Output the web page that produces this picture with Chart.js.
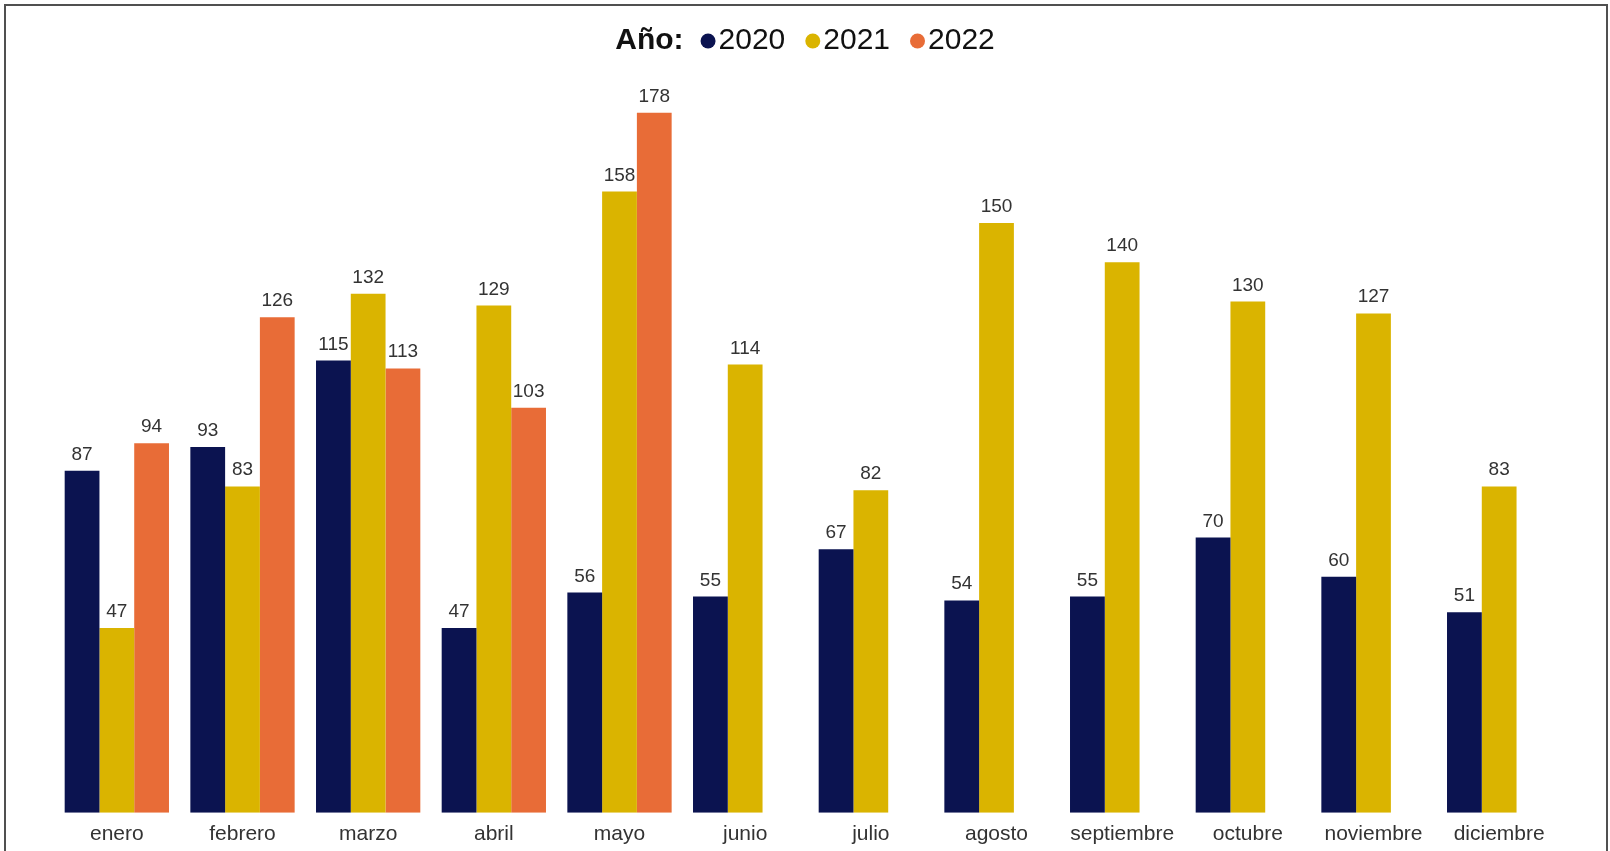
<!DOCTYPE html>
<html lang="es">
<head>
<meta charset="utf-8">
<title>Año 2020 - 2022</title>
<script src="https://cdn.jsdelivr.net/npm/chart.js@4.4.0/dist/chart.umd.min.js"></script>
<style>
  html, body { margin: 0; padding: 0; background: #fff; overflow: hidden; }
  #wrap { position: relative; width: 1610px; height: 851px; }
  #frame { position: absolute; left: 4px; top: 4px; width: 1604px; height: 900px;
           box-sizing: border-box; border: 2px solid #505050; pointer-events: none; }
</style>
</head>
<body>
<div id="wrap">
  <canvas id="chart"></canvas>
  <div id="frame"></div>
</div>
<script>
const months = ['enero', 'febrero', 'marzo', 'abril', 'mayo', 'junio',
  'julio', 'agosto', 'septiembre', 'octubre', 'noviembre', 'diciembre'];
const years = ['2020', '2021', '2022'];
const values2020 = [87, 93, 115, 47, 56, 55, 67, 54, 55, 70, 60, 51];
const values2021 = [47, 83, 132, 129, 158, 114, 82, 150, 140, 130, 127, 83];
const values2022 = [94, 126, 113, 103, 178, null, null, null, null, null, null, null];
const yearColors = ['#0B1350', '#DAB400', '#E86C37'];

Chart.defaults.font.family = '"Liberation Sans", Arial, sans-serif';

// numbers above each bar
const barValues = {
  id: 'barValues',
  afterDatasetsDraw(chart) {
    const ctx = chart.ctx;
    ctx.save();
    ctx.font = '19px "Liberation Sans", Arial, sans-serif';
    ctx.fillStyle = '#333333';
    ctx.textAlign = 'center';
    ctx.textBaseline = 'alphabetic';
    chart.data.datasets.forEach((ds, i) => {
      chart.getDatasetMeta(i).data.forEach((bar, j) => {
        if (ds.data[j] == null) return;
        ctx.fillText(ds.data[j], bar.x, bar.y - 11);
      });
    });
    ctx.restore();
  }
};

// "Año:" legend on one line, dots hugging the labels
const yearLegend = {
  id: 'yearLegend',
  afterDraw(chart) {
    const ctx = chart.ctx;
    const baseY = 49;
    const dotR = 7.5;
    ctx.save();
    ctx.textBaseline = 'alphabetic';
    ctx.textAlign = 'left';
    ctx.font = 'bold 30px "Liberation Sans", Arial, sans-serif';
    const titleW = ctx.measureText('Año:').width;
    ctx.font = '30px "Liberation Sans", Arial, sans-serif';
    const labels = chart.data.datasets.map(d => d.label);
    const widths = labels.map(t => ctx.measureText(t).width);
    let total = titleW + 17;
    widths.forEach((w, i) => { total += dotR * 2 + 3 + w + (i < widths.length - 1 ? 20 : 0); });
    let x = (chart.width - total) / 2;

    ctx.fillStyle = '#111111';
    ctx.font = 'bold 30px "Liberation Sans", Arial, sans-serif';
    ctx.fillText('Año:', x, baseY);
    x += titleW + 17;
    ctx.font = '30px "Liberation Sans", Arial, sans-serif';
    labels.forEach((t, i) => {
      ctx.beginPath();
      ctx.fillStyle = chart.data.datasets[i].backgroundColor;
      ctx.arc(x + dotR, baseY - 8, dotR, 0, Math.PI * 2);
      ctx.fill();
      x += dotR * 2 + 3;
      ctx.fillStyle = '#111111';
      ctx.fillText(t, x, baseY);
      x += widths[i] + 20;
    });
    ctx.restore();
  }
};

new Chart(document.getElementById('chart'), {
  type: 'bar',
  data: {
    labels: months,
    datasets: [
      { label: years[0], data: values2020, backgroundColor: yearColors[0] },
      { label: years[1], data: values2021, backgroundColor: yearColors[1] },
      { label: years[2], data: values2022, backgroundColor: yearColors[2] }
    ]
  },
  options: {
    responsive: true,
    maintainAspectRatio: false,
    animation: false,
    categoryPercentage: 0.83,
    barPercentage: 1.0,
    layout: {
      padding: { top: 105, left: 54, right: 48, bottom: -5 }
    },
    plugins: {
      legend: { display: false },
      tooltip: { enabled: true }
    },
    scales: {
      x: {
        grid: { display: false, drawTicks: false },
        border: { display: false },
        ticks: {
          padding: 9,
          color: '#333333',
          font: { size: 21 }
        }
      },
      y: {
        display: false,
        min: 0,
        max: 180
      }
    }
  },
  plugins: [barValues, yearLegend]
});
</script>
</body>
</html>
